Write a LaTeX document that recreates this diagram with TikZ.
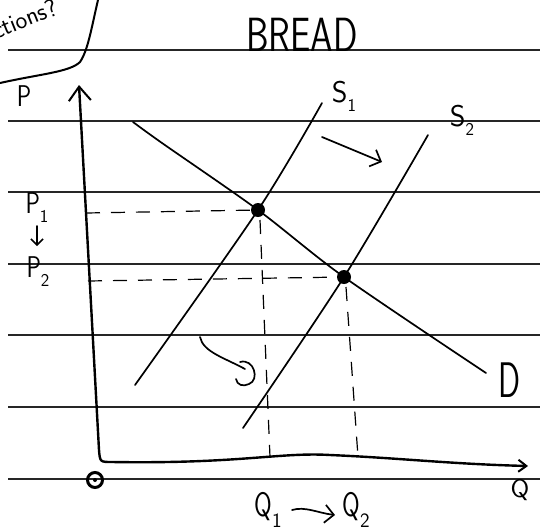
\documentclass[tikz,border=0pt]{standalone}
\usepackage{graphicx}
\usetikzlibrary{arrows.meta}
\newcommand\lowsub[1]{\raisebox{-0.3em}{\scalebox{0.6}{#1}}}
\begin{document}
\begin{tikzpicture}[x=1pt,y=-1pt,
    rule/.style={line width=2.4pt, black!85},
    hand/.style={line width=1.7pt, line cap=round, line join=round},
    axis/.style={hand, line width=2.4pt},
    guide/.style={line width=1.2pt, dash pattern=on 14pt off 11pt},
    eqdot/.style={circle, fill, inner sep=0pt, minimum size=14pt},
    hw/.style={font=\sffamily\fontsize{30}{30}\selectfont, inner sep=0pt},
    barb/.tip={Straight Barb[length=9pt, width=18pt, line width=1.7pt]}]
    \useasboundingbox (0,0) rectangle (540,531);
    \clip (0,0) rectangle (540,531);
    % lined paper
    \foreach \y in {50,121,192,264,335,407,479}
        \draw[rule] (8,\y) -- (540,\y);

    % scribble in the corner
    \node[hw, font=\sffamily\fontsize{25}{25}\selectfont, rotate=22, anchor=south west]
        (corner text) at (-4,40) {ctions?};
    \draw[hand, line width=2pt] (0,83) .. controls (40,74) and (70,72) .. (80,62)
        .. controls (88,50) and (91,30) .. (98,0);

    % title
    \node[hw, font=\sffamily\fontsize{48}{48}\selectfont] (title) at (302,35)
        {\scalebox{0.75}[1]{BREAD}};

    % points and feet
    \coordinate (ptop) at (79,85);
    \coordinate (qend) at (528,466);
    \coordinate (e1) at (258,210);
    \coordinate (e2) at (344,277);
    \coordinate (p1foot) at (86,213);
    \coordinate (p2foot) at (88,281);
    \coordinate (q1top) at (260,220);
    \coordinate (q1foot) at (270,457);
    \coordinate (q2top) at (346,287);
    \coordinate (q2foot) at (358,457);

    % axes
    \draw[axis, {Straight Barb[length=14pt, width=22pt, line width=2pt]}-{Straight Barb[length=8pt, width=12pt, line width=2pt]}]
        (ptop) -- (99,450) .. controls (100,462) .. (112,462)
        .. controls (240,464) and (280,452) .. (330,455)
        .. controls (400,458) and (450,464) .. (qend);
    \node[circle, draw, line width=3pt, minimum size=15pt, inner sep=0pt] (origin) at (95,480) {};
    \fill (origin.center) circle (2pt);

    % dashed guides
    \draw[guide] (p1foot) -- (e1);
    \draw[guide] (p2foot) -- (e2);
    \draw[guide] (q1top) -- (q1foot);
    \draw[guide] (q2top) -- (q2foot);

    % curves
    \draw[hand] plot[smooth] coordinates {(133,122) (162,143) (e1) (e2) (486,373)};
    \draw[hand] plot[smooth] coordinates {(135,385) (e1) (322,103)};
    \draw[hand] plot[smooth] coordinates {(243,428) (e2) (428,135)};
    \node[eqdot] (dot1) at (e1) {};
    \node[eqdot] (dot2) at (e2) {};

    % shift arrows
    \coordinate (shift a) at (322,137);
    \coordinate (shift b) at (382,162);
    \draw[hand, -barb] (shift a) -- (shift b);
    \coordinate (curl a) at (200,337);
    \coordinate (curl b) at (245,369);
    \draw[hand] (curl a) .. controls (203,352) and (225,358) .. (curl b);
    \draw[hand] (240,362) .. controls (254,358) and (260,380) .. (249,384)
        .. controls (243,387) and (237,385) .. (236,379);

    % labels
    \node[hw] (P) at (24,96) {\scalebox{0.8}[1]{P}};
    \node[hw] (P1) at (37,208) {\scalebox{0.8}[1]{P}\lowsub{1}};
    \node[hw] (P2) at (38,272) {\scalebox{0.8}[1]{P}\lowsub{2}};
    \coordinate (pdown a) at (37,226);
    \coordinate (pdown b) at (37,246);
    \draw[hand, -{Straight Barb[length=6pt, width=12pt, line width=1.5pt]}] (pdown a) -- (pdown b);
    \node[hw] (S1) at (344,96) {S\lowsub{1}};
    \node[hw] (S2) at (462,120) {S\lowsub{2}};
    \node[hw] (D) at (510,380) {\scalebox{0.65}[1]{\fontsize{50}{50}\selectfont D}};
    \node[hw] (Q) at (520,490) {\scalebox{0.9}[0.85]{Q}};
    \node[hw, font=\sffamily\fontsize{34}{34}\selectfont] (Q1) at (268,510) {\scalebox{0.75}[1]{Q}\lowsub{1}};
    \node[hw, font=\sffamily\fontsize{34}{34}\selectfont] (Q2) at (356,510) {\scalebox{0.75}[1]{Q}\lowsub{2}};
    \coordinate (qshift a) at (292,510);
    \coordinate (qshift b) at (335,515);
    \draw[hand, -barb] (qshift a) .. controls (305,506) and (318,513) .. (qshift b);
\end{tikzpicture}
\end{document}
